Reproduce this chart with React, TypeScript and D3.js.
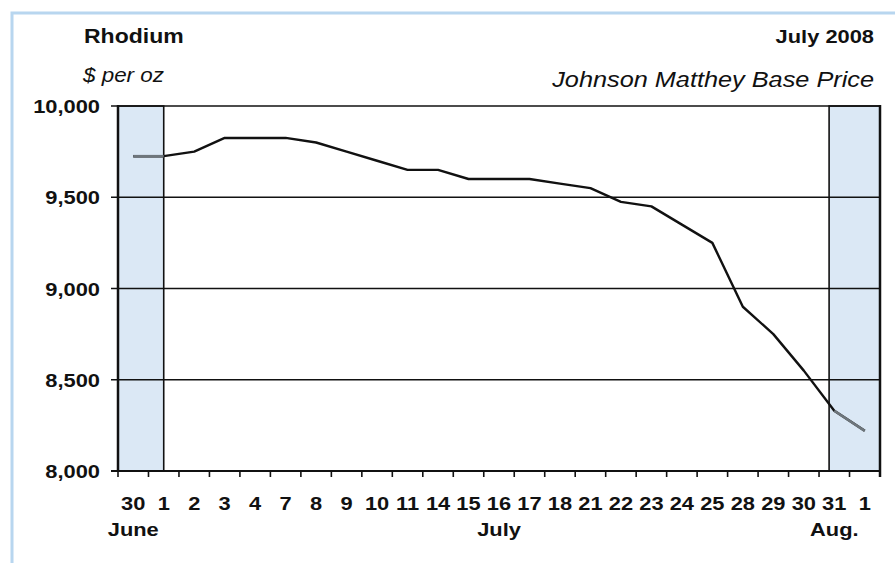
import * as d3 from "d3";

const dayLabels = ["30", "1", "2", "3", "4", "7", "8", "9", "10", "11", "14", "15", "16", "17", "18", "21", "22", "23", "24", "25", "28", "29", "30", "31", "1"];
const prices = [9725, 9725, 9750, 9825, 9825, 9825, 9800, 9750, 9700, 9650, 9650, 9600, 9600, 9600, 9575, 9550, 9475, 9450, 9350, 9250, 8900, 8750, 8550, 8330, 8220];
const yTicks = [8000, 8500, 9000, 9500, 10000];
// month label sits under the day at this index
const monthLabels = [
  { label: "June", at: 0 },
  { label: "July", at: 12 },
  { label: "Aug.", at: 23 },
];
// shaded periods outside July, in band units
const shaded = [
  [0, 1.5],
  [23.33, 25],
];
// segments drawn in grey (inside the shaded periods)
const greySegments = [
  [0, 1],
  [23, 24],
];

const W = 895;
const H = 563;
const left = 118;
const right = 880;
const top = 106;
const bottom = 471;
const SX = 1.15;
const font = "'Liberation Sans', Arial, sans-serif";

function T({ x, y, size, anchor = "start", bold = false, italic = false, children }: any) {
  return (
    <text
      transform={`translate(${x},${y}) scale(${SX},1)`}
      textAnchor={anchor}
      fontFamily={font}
      fontSize={size}
      fontWeight={bold ? "bold" : "normal"}
      fontStyle={italic ? "italic" : "normal"}
      fill="#111"
    >
      {children}
    </text>
  );
}

export default function App() {
  const x = d3.scaleLinear().domain([0, dayLabels.length]).range([left, right]);
  const y = d3.scaleLinear().domain([8000, 10000]).range([bottom, top]);
  const cx = (i: number) => x(i + 0.5);

  const line = d3
    .line<number>()
    .x((_, i) => cx(i))
    .y((d) => y(d));

  const greyPath = (a: number, b: number) =>
    d3
      .line<number>()
      .x((_, i) => cx(a + i))
      .y((d) => y(d))(prices.slice(a, b + 1)) ?? "";

  const fmt = d3.format(",");

  return (
    <svg width={W} height={H} style={{ position: "absolute", left: 0, top: 0, background: "#fff" }}>
      <rect x={12} y={13} width={W + 20} height={H + 20} fill="none" stroke="#b8d6ef" strokeWidth={3} />

      <T x={84} y={43} size={20} bold>Rhodium</T>
      <T x={83} y={82} size={19.5} italic>$ per oz</T>
      <T x={874} y={43} size={19} bold anchor="end">July 2008</T>
      <T x={874} y={87} size={22} italic anchor="end">Johnson Matthey Base Price</T>

      {shaded.map(([a, b], i) => (
        <rect key={i} x={x(a)} y={top} width={x(b) - x(a)} height={bottom - top} fill="#dbe8f5" />
      ))}

      {yTicks.map((t) => (
        <g key={t}>
          <line x1={left - 7} x2={right} y1={y(t)} y2={y(t)} stroke="#111" strokeWidth={t === 8000 ? 2 : 1.6} />
          <T x={100} y={y(t) + 7} size={19} bold anchor="end">{fmt(t)}</T>
        </g>
      ))}

      {shaded.map(([a, b], i) => (
        <rect key={i} x={x(a)} y={top} width={x(b) - x(a)} height={bottom - top} fill="none" stroke="#111" strokeWidth={1.6} />
      ))}
      <line x1={left} x2={left} y1={top - 1} y2={bottom} stroke="#111" strokeWidth={2.5} />
      <line x1={right} x2={right} y1={top - 1} y2={bottom + 6} stroke="#111" strokeWidth={2.5} />

      {d3.range(dayLabels.length + 1).map((i) => (
        <line key={i} x1={x(i)} x2={x(i)} y1={bottom} y2={bottom + 6} stroke="#111" strokeWidth={1.6} />
      ))}

      {dayLabels.map((d, i) => (
        <T key={i} x={cx(i)} y={510} size={19} bold anchor="middle">{d}</T>
      ))}
      {monthLabels.map((m) => (
        <T key={m.label} x={cx(m.at)} y={536} size={19} bold anchor="middle">{m.label}</T>
      ))}

      <path d={line(prices) ?? ""} fill="none" stroke="#111" strokeWidth={2.4} strokeLinejoin="round" />
      {greySegments.map(([a, b], i) => (
        <path key={i} d={greyPath(a, b)} fill="none" stroke="#6e767c" strokeWidth={2.6} />
      ))}
    </svg>
  );
}
